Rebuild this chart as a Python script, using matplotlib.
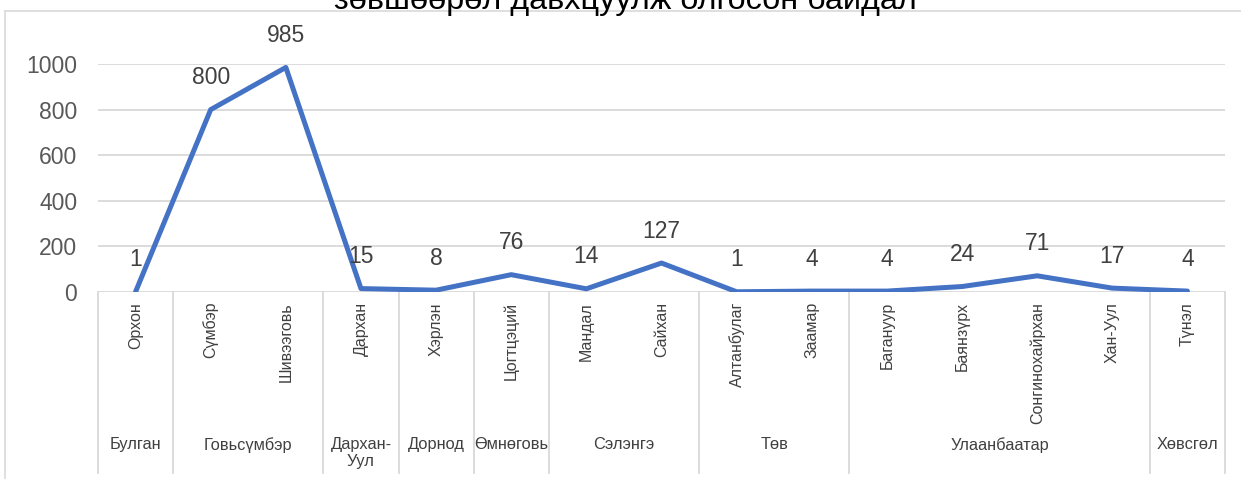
import matplotlib
matplotlib.use("Agg")
import matplotlib.pyplot as plt
from matplotlib.lines import Line2D

plt.rcParams['font.family'] = ['Liberation Sans', 'DejaVu Sans']

title = "зөвшөөрөл давхцуулж олгосон байдал"
groups = ["Булган", "Говьсүмбэр", "Дархан-\nУул", "Дорнод", "Өмнөговь",
          "Сэлэнгэ", "Төв", "Улаанбаатар", "Хөвсгөл"]
group_sizes = [1, 2, 1, 1, 1, 2, 2, 4, 1]
categories = ["Орхон", "Сүмбэр", "Шивээговь", "Дархан", "Хэрлэн", "Цогтцэций",
              "Мандал", "Сайхан", "Алтанбулаг", "Заамар", "Багануур", "Баянзүрх",
              "Сонгинохайрхан", "Хан-Уул", "Түнэл"]
values = [1, 800, 985, 15, 8, 76, 14, 127, 1, 4, 4, 24, 71, 17, 4]
yticks = [0, 200, 400, 600, 800, 1000]

W, H = 1241, 479
fig = plt.figure(figsize=(W / 100, H / 100), dpi=100)
fig.patch.set_facecolor('white')

# chart area border (left + top)
fig.add_artist(Line2D([5 / W, 5 / W], [0, 1 - 11 / H], color='#D9D9D9', lw=1.2))
fig.add_artist(Line2D([5 / W, 1], [1 - 11 / H, 1 - 11 / H], color='#D9D9D9', lw=1.2))

fig.text(625 / W, 1 - 9 / H, title, ha='center', va='baseline', fontsize=23.3, color='#000000')

x0, x1, yb, yt = 98, 1225, 292, 64
ax = fig.add_axes([x0 / W, 1 - yb / H, (x1 - x0) / W, (yb - yt) / H])
n = len(categories)
xs = list(range(n))
ax.set_xlim(-0.5, n - 0.5)
ax.set_ylim(0, 1000)
for s in ax.spines.values():
    s.set_visible(False)
ax.set_yticks(yticks)
ax.yaxis.grid(True, color='#D9D9D9', lw=1.3)
ax.set_axisbelow(True)
ax.tick_params(axis='y', length=0, pad=15, labelsize=16.5, labelcolor='#595959')
ax.set_xticks([])

ax.plot(xs, values, color='#4472C4', lw=3.6, solid_joinstyle='round', solid_capstyle='round', zorder=3)

for x, v in zip(xs, values):
    ax.annotate(str(v), (x, v), xytext=(0, 23), textcoords='offset points',
                ha='center', va='center', fontsize=16.5, color='#404040', zorder=4)

tr = ax.get_xaxis_transform()
ph = yb - yt
def yax(p):
    return (yb - p) / ph

for x, c in zip(xs, categories):
    ax.text(x, yax(302), c, rotation=90, ha='center', va='top', fontsize=11.5,
            color='#404040', transform=tr, clip_on=False)

start = -0.5
bounds = [start]
for g, sz in zip(groups, group_sizes):
    mid = start + sz / 2
    ax.text(mid, yax(437), g, ha='center', va='top', fontsize=11.8, color='#404040',
            transform=tr, clip_on=False, linespacing=1.15)
    start += sz
    bounds.append(start)
for b in bounds:
    ax.plot([b, b], [0, yax(473)], color='#D9D9D9', lw=1.3, transform=tr, clip_on=False)

fig.savefig("out.png", dpi=100)
